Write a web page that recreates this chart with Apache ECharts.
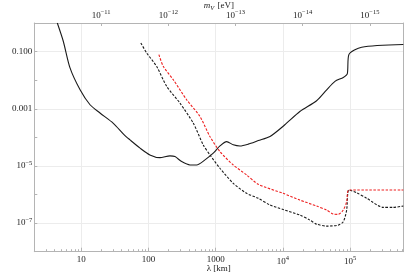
<!DOCTYPE html>
<html>
<head>
<meta charset="utf-8">
<script src="https://cdn.jsdelivr.net/npm/echarts@6/dist/echarts.min.js"></script>
<style>
html,body{margin:0;padding:0;background:#fff;}
#c{width:415px;height:276px;}
</style>
</head>
<body>
<div id="c"></div>
<script>
// ---- data (lambda in km, coupling values) ----
var solidLambda = [4.4, 5.4, 6.8, 9.6, 13.5, 19, 30, 43.6, 53, 75, 105, 148, 209, 248, 312, 415, 521, 693, 921, 1158, 1458, 1829, 2300, 3057, 4305, 6430, 10700, 17900, 31800, 44900, 59600, 79300, 90900, 96000, 149000, 620000];
var solidValue  = [1.0, 0.23, 0.0268, 4.6e-3, 1.38e-3, 7.1e-4, 3.1e-4, 1.22e-4, 8.2e-5, 4.2e-5, 2.43e-5, 1.95e-5, 2.25e-5, 2.12e-5, 1.42e-5, 1.08e-5, 1.08e-5, 1.63e-5, 2.79e-5, 5.0e-5, 7.1e-5, 5.5e-5, 5.0e-5, 5.8e-5, 7.7e-5, 1.07e-4, 2.75e-4, 8.0e-4, 1.91e-3, 4.6e-3, 9.1e-3, 0.0125, 0.0165, 0.0785, 0.142, 0.176];

var blackDashLambda = [77, 94, 132, 187, 294, 464, 654, 822, 1158, 1829, 2893, 4305, 6430, 10100, 17900, 25300, 31800, 44900, 66700, 79300, 89000, 96000, 125000, 177000, 312000, 439000, 620000];
var blackDashValue  = [0.2, 0.09, 0.0305, 6.05e-3, 1.58e-3, 3.15e-4, 5.45e-5, 2.43e-5, 8.3e-6, 2.47e-6, 1.1e-6, 7.4e-7, 4.3e-7, 3.0e-7, 1.91e-7, 1.27e-7, 9.2e-8, 7.85e-8, 8.5e-8, 1.11e-7, 2.86e-7, 1.44e-6, 1.16e-6, 7.4e-7, 3.56e-7, 3.56e-7, 3.95e-7];

var redDashLambda = [143, 166, 234, 370, 583, 822, 1158, 1829, 2893, 4305, 10100, 17900, 31800, 44900, 56300, 66700, 79300, 89000, 97000, 620000];
var redDashValue  = [0.0785, 0.0305, 0.0104, 2.07e-3, 5.4e-4, 1.07e-4, 3.18e-5, 1.08e-5, 4.83e-6, 2.28e-6, 1.1e-6, 6.4e-7, 3.95e-7, 2.86e-7, 2.07e-7, 2.02e-7, 2.86e-7, 5.6e-7, 1.44e-6, 1.44e-6];

// axis ranges / tick helpers
var lambdaMin = 2, lambdaMax = 6.2e5;
var valueMin = 1e-8, valueMax = 1;
var HBARC = 1.9733e-10; // eV*km, m_V = hbar c / lambda
var minorTickLambda = [3,4,5,6,7,8,9,20,30,40,50,60,70,80,90,200,300,400,500,600,700,800,900,2000,3000,4000,5000,6000,7000,8000,9000,20000,30000,40000,50000,60000,70000,80000,90000,200000,300000,400000,500000,600000];

function pairs(xs, ys){ return xs.map(function(x,i){ return [x, ys[i]]; }); }
var FONT = '"Liberation Serif","DejaVu Serif",serif';
var TXT = '#222';
var AX = '#b4b4b4';
var rich = {
  b: {fontFamily: FONT, fontSize: 9, color: TXT},
  s: {fontFamily: FONT, fontSize: 6.5, color: TXT, verticalAlign: 'top', padding: [0,0,6,0]}
};
function pow10Label(e){ return '{b|10}{s|' + (e < 0 ? '\u2212' + (-e) : e) + '}'; }

var chart = echarts.init(document.getElementById('c'), null, {renderer: 'canvas'});
chart.setOption({
  animation: false,
  backgroundColor: '#fff',
  grid: {left: 34.3, right: 11.7, top: 23, bottom: 24.3, containLabel: false, outerBoundsMode: 'none'},
  xAxis: [
    {
      type: 'log', min: lambdaMin, max: lambdaMax, position: 'bottom', splitNumber: 6,
      name: '\u03bb [km]', nameLocation: 'middle', nameGap: 17, nameMoveOverlap: false,
      nameTextStyle: {fontFamily: FONT, fontSize: 9, color: TXT, verticalAlign: 'middle'},
      axisLine: {show: true, lineStyle: {color: AX, width: 1}},
      axisTick: {show: true, inside: true, length: 4, lineStyle: {color: AX}},
      splitLine: {show: true, lineStyle: {color: '#ececec', width: 1}},
      axisLabel: {
        margin: 3, showMinLabel: false, showMaxLabel: false, rich: rich,
        fontFamily: FONT, fontSize: 9, color: TXT,
        formatter: function(v){
          var e = Math.round(Math.log10(v));
          if (Math.abs(Math.log10(v) - e) > 1e-6) return '';
          if (e <= 3) return '{b|' + Math.pow(10, e) + '}';
          return pow10Label(e);
        }
      }
    },
    {
      type: 'log', inverse: true, min: HBARC / lambdaMax, max: HBARC / lambdaMin, position: 'top', splitNumber: 6,
      name: '{i|m}{v|V} {b|[eV]}', nameLocation: 'middle', nameGap: 17, nameMoveOverlap: false,
      nameTextStyle: {verticalAlign: 'middle', rich: {
        i: {fontFamily: FONT, fontSize: 9, fontStyle: 'italic', color: TXT},
        v: {fontFamily: FONT, fontSize: 6.5, fontStyle: 'italic', color: TXT, verticalAlign: 'bottom', padding: [4,0,0,0]},
        b: {fontFamily: FONT, fontSize: 9, color: TXT}
      }},
      axisLine: {show: true, lineStyle: {color: AX, width: 1}},
      axisTick: {show: true, inside: true, length: 3, lineStyle: {color: AX}},
      splitLine: {show: false},
      axisLabel: {
        margin: 1, showMinLabel: false, showMaxLabel: false, rich: rich,
        formatter: function(v){
          var e = Math.round(Math.log10(v));
          if (Math.abs(Math.log10(v) - e) > 1e-6) return '';
          return pow10Label(e);
        }
      }
    },
    {
      type: 'value', min: Math.log10(lambdaMin), max: Math.log10(lambdaMax), position: 'bottom',
      axisLine: {show: false}, axisLabel: {show: false}, splitLine: {show: false},
      axisTick: {show: true, inside: true, length: 2.5, lineStyle: {color: AX},
        customValues: minorTickLambda.map(function(v){ return Math.log10(v); })}
    }
  ],
  yAxis: [
    {
      type: 'log', min: valueMin, max: valueMax, splitNumber: 8, position: 'left',
      axisLine: {show: true, lineStyle: {color: AX, width: 1}},
      axisTick: {show: true, inside: true, length: 3, lineStyle: {color: AX}},
      splitLine: {show: true, lineStyle: {color: ['rgba(0,0,0,0)', '#ececec'], width: 1}},
      axisLabel: {
        margin: 2, rich: rich, fontFamily: FONT, fontSize: 9, color: TXT,
        formatter: function(v){
          var e = Math.round(Math.log10(v));
          if (Math.abs(Math.log10(v) - e) > 1e-6) return '';
          if (e % 2 === 0) return '';
          if (e >= -3) return '{b|' + v.toFixed(3) + '}';
          return pow10Label(e);
        }
      }
    },
    {
      type: 'log', min: valueMin, max: valueMax, position: 'right',
      axisLine: {show: true, lineStyle: {color: AX, width: 1}},
      axisTick: {show: false}, axisLabel: {show: false}, splitLine: {show: false}
    }
  ],
  series: [
    {
      type: 'line', xAxisIndex: 0, yAxisIndex: 0, data: pairs(solidLambda, solidValue),
      showSymbol: false, smooth: 0.25, clip: true,
      lineStyle: {color: '#1a1a1a', width: 1.1}
    },
    {
      type: 'line', xAxisIndex: 0, yAxisIndex: 0, data: pairs(blackDashLambda, blackDashValue),
      showSymbol: false, smooth: 0.25, clip: true,
      lineStyle: {color: '#1a1a1a', width: 1.1, type: [2.5, 1.5]}
    },
    {
      type: 'line', xAxisIndex: 0, yAxisIndex: 0, data: pairs(redDashLambda, redDashValue),
      showSymbol: false, smooth: 0.25, clip: true,
      lineStyle: {color: '#ee2020', width: 1.1, type: [2.5, 1.5]}
    }
  ]
});
</script>
</body>
</html>
